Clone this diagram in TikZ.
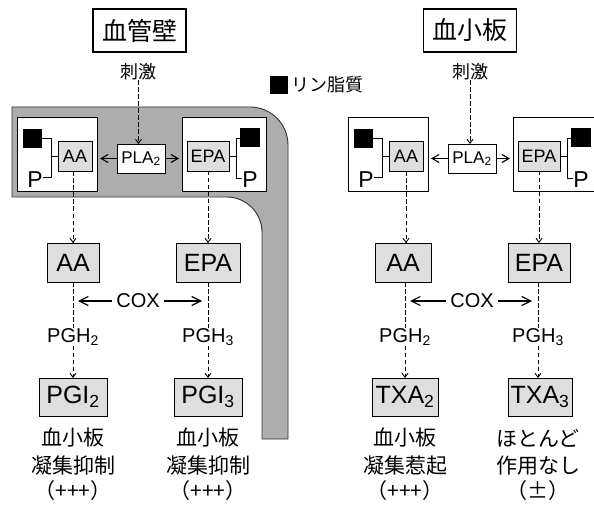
\documentclass[tikz,border=0pt]{standalone}
\usepackage{fontspec}
\setmainfont{Liberation Sans}
\newfontfamily\jp{Noto Sans CJK JP}
\usetikzlibrary{arrows.meta}
\definecolor{bandgray}{gray}{0.68}
\definecolor{boxgray}{gray}{0.87}
\begin{document}
\begin{tikzpicture}[x=1pt,y=-1pt,
  every node/.style={inner sep=0pt, outer sep=0pt},
  titlebox/.style={draw, line width=1.1pt, fill=white, minimum width=93pt, minimum height=43pt, font=\jp\fontsize{25}{25}\selectfont},
  bigbox/.style={draw, line width=0.9pt, fill=boxgray, minimum height=39pt, font=\fontsize{25}{25}\selectfont},
  smallbox/.style={draw, line width=0.8pt, fill=boxgray, minimum height=30pt, font=\fontsize{18}{18}\selectfont},
  lipidbox/.style={draw, line width=0.9pt, fill=white, minimum height=74pt},
  plabox/.style={draw, line width=0.8pt, fill=white, minimum width=48pt, minimum height=29pt, font=\fontsize{17}{17}\selectfont},
  sqbox/.style={fill=black, minimum width=19pt, minimum height=19pt},
  plabel/.style={font=\fontsize{23}{23}\selectfont},
  stim/.style={font=\jp\fontsize{18}{18}\selectfont},
  jtext/.style={font=\jp\fontsize{21}{21}\selectfont},
  ptext/.style={font=\jp\fontsize{21}{21}\selectfont},
  legtext/.style={font=\jp\fontsize{18}{18}\selectfont},
  lbl/.style={font=\fontsize{20}{20}\selectfont},
  coxlbl/.style={font=\fontsize{20}{20}\selectfont, inner xsep=4pt},
  dasharrow/.style={dash pattern=on 4.5pt off 2.5pt, line width=0.9pt, -{Straight Barb[length=4pt,width=6pt]}},
  dashline/.style={dash pattern=on 4.5pt off 2.5pt, line width=0.9pt},
  coxarrow/.style={line width=1.2pt, -{Straight Barb[length=9pt,width=9pt]}},
  plaarrow/.style={line width=1.1pt, -{Straight Barb[length=7pt,width=8pt]}},
  bracket/.style={line width=0.8pt}
]
\useasboundingbox (0,0) rectangle (594,505);
\clip (0,0) rectangle (594,505);

% ---------- gray band (vessel wall) ----------
\filldraw[fill=bandgray, draw=black!80, line width=0.9pt]
  (12,107) -- (250,107) .. controls (271,107) and (288,124) .. (288,145)
  -- (288,439) -- (262,439) -- (262,232)
  .. controls (262,213) and (246,197) .. (227,197) -- (12,197) -- cycle;

% ---------- left: vessel wall ----------
\node[titlebox] (title1) at (139.5,30.5) {血管壁};
\node[stim] (stim1) at (138.5,72) {刺激};

\node[lipidbox, minimum width=80pt] (lip1L) at (57,154) {};
\node[smallbox, minimum width=34pt] (aaS1) at (75,156.5) {AA};
\node[sqbox] (sq1L) at (32.5,138.5) {};
\node[plabel] (P1L) at (35,180) {P};
\coordinate (b1Lbot) at (51,177);
\draw[bracket] (sq1L.east) -| (b1Lbot) -- (P1L.east |- b1Lbot);
\draw[bracket] (b1Lbot |- aaS1.west) -- (aaS1.west);

\node[plabox] (pla1) at (141,158.5) {PLA\textsubscript{2}};

\node[lipidbox, minimum width=84pt] (lip1R) at (224,154) {};
\node[smallbox, minimum width=42pt] (epaS1) at (208,156) {EPA};
\node[sqbox, minimum width=20pt] (sq1R) at (250,138) {};
\node[plabel] (P1R) at (250,180) {P};
\coordinate (b1Rbot) at (236,178);
\draw[bracket] (sq1R.west) -| (b1Rbot) -- (P1R.west |- b1Rbot);
\draw[bracket] (b1Rbot |- epaS1.east) -- (epaS1.east);

\draw[dasharrow] (stim1.south) -- (stim1.south |- pla1.north);
\draw[plaarrow, shorten >=3pt] (pla1.west) -- (lip1L.east |- pla1.west);
\draw[plaarrow, shorten >=3pt] (pla1.east) -- (lip1R.west |- pla1.east);

\node[bigbox, minimum width=52pt] (aa1) at (73,262.5) {AA};
\node[bigbox, minimum width=64pt] (epa1) at (208,262.5) {EPA};
\draw[dasharrow] (aa1.north |- aaS1.south) -- (aa1.north);
\draw[dasharrow] (epa1.north |- epaS1.south) -- (epa1.north);

\node[coxlbl] (cox1) at (138,301) {COX};
\node[lbl] (pgh2) at (73,337) {PGH\textsubscript{2}};
\node[lbl] (pgh3) at (208,337) {PGH\textsubscript{3}};
\draw[dashline] (pgh2.north |- aa1.south) -- (pgh2.north);
\draw[dashline] (pgh3.north |- epa1.south) -- (pgh3.north);
\draw[coxarrow, shorten >=5pt] (cox1.west) -- (aa1.south |- cox1.west);
\draw[coxarrow, shorten >=6pt] (cox1.east) -- (epa1.south |- cox1.east);

\node[bigbox, minimum width=68pt, minimum height=38pt] (pgi2) at (73,397) {PGI\textsubscript{2}};
\node[bigbox, minimum width=68pt, minimum height=38pt] (pgi3) at (208,397) {PGI\textsubscript{3}};
\draw[dasharrow] (pgh2.south) -- (pgi2.north);
\draw[dasharrow] (pgh3.south) -- (pgi3.north);

\node[jtext] (e1a) at (73,438) {血小板};
\node[jtext] (e1b) at (73,466) {凝集抑制};
\node[ptext] (e1c) at (73,491) {（+++）};
\node[jtext] (e2a) at (208,438) {血小板};
\node[jtext] (e2b) at (208,466) {凝集抑制};
\node[ptext] (e2c) at (208,491) {（+++）};

% ---------- legend ----------
\node[sqbox, minimum width=18pt, minimum height=18pt] (legsq) at (279,85) {};
\node[legtext, anchor=west] (legtxt) at (291,85) {リン脂質};

% ---------- right: platelet ----------
\node[titlebox] (title2) at (470,30.5) {血小板};
\node[stim] (stim2) at (470,72) {刺激};

\node[lipidbox, minimum width=80pt] (lip2L) at (388,154) {};
\node[smallbox, minimum width=34pt] (aaS2) at (406,156.5) {AA};
\node[sqbox] (sq2L) at (363.5,138.5) {};
\node[plabel] (P2L) at (366,180) {P};
\coordinate (b2Lbot) at (382,177);
\draw[bracket] (sq2L.east) -| (b2Lbot) -- (P2L.east |- b2Lbot);
\draw[bracket] (b2Lbot |- aaS2.west) -- (aaS2.west);

\node[plabox] (pla2) at (472,158.5) {PLA\textsubscript{2}};

\node[lipidbox, minimum width=84pt] (lip2R) at (555,154) {};
\node[smallbox, minimum width=42pt] (epaS2) at (539,156) {EPA};
\node[sqbox, minimum width=20pt] (sq2R) at (581,138) {};
\node[plabel] (P2R) at (581,180) {P};
\coordinate (b2Rbot) at (567,178);
\draw[bracket] (sq2R.west) -| (b2Rbot) -- (P2R.west |- b2Rbot);
\draw[bracket] (b2Rbot |- epaS2.east) -- (epaS2.east);

\draw[dasharrow] (stim2.south) -- (stim2.south |- pla2.north);
\draw[plaarrow, shorten >=3pt] (pla2.west) -- (lip2L.east |- pla2.west);
\draw[plaarrow, shorten >=3pt] (pla2.east) -- (lip2R.west |- pla2.east);

\node[bigbox, minimum width=56pt] (aa2) at (403,262.5) {AA};
\node[bigbox, minimum width=62pt] (epa2) at (539,262.5) {EPA};
\draw[dasharrow] (aaS2.south) -- (aaS2.south |- aa2.north);
\draw[dasharrow] (epa2.north |- epaS2.south) -- (epa2.north);

\node[coxlbl] (cox2) at (472,301) {COX};
\node[lbl] (pgh2b) at (405,337) {PGH\textsubscript{2}};
\node[lbl] (pgh3b) at (538,337) {PGH\textsubscript{3}};
\draw[dashline] (pgh2b.north |- aa2.south) -- (pgh2b.north);
\draw[dashline] (pgh3b.north |- epa2.south) -- (pgh3b.north);
\draw[coxarrow, shorten >=5pt] (cox2.west) -- (pgh2b.north |- cox2.west);
\draw[coxarrow, shorten >=6pt] (cox2.east) -- (pgh3b.north |- cox2.east);

\node[bigbox, minimum width=66pt, minimum height=38pt] (txa2) at (405,397) {TXA\textsubscript{2}};
\node[bigbox, minimum width=64pt, minimum height=38pt] (txa3) at (540,397) {TXA\textsubscript{3}};
\draw[dasharrow] (pgh2b.south) -- (pgh2b.south |- txa2.north);
\draw[dasharrow] (pgh3b.south) -- (pgh3b.south |- txa3.north);

\node[jtext] (e3a) at (405,438) {血小板};
\node[jtext] (e3b) at (405,466) {凝集惹起};
\node[ptext] (e3c) at (405,491) {（+++）};
\node[jtext] (e4a) at (538,438) {ほとんど};
\node[jtext] (e4b) at (538,466) {作用なし};
\node[ptext] (e4c) at (538,491) {（±）};
\end{tikzpicture}
\end{document}
